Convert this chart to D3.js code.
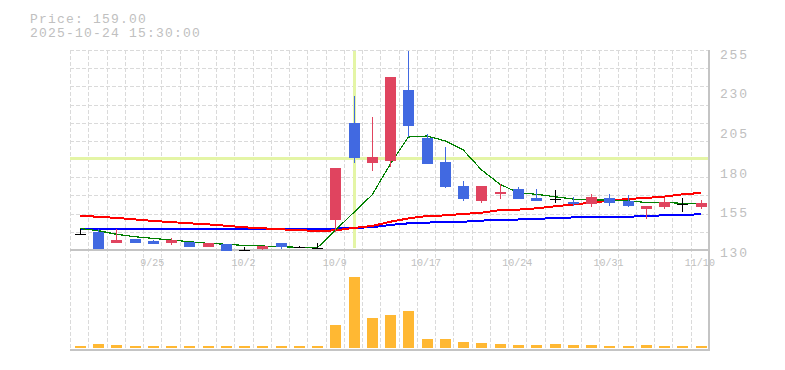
<!DOCTYPE html>
<html>
<head>
<meta charset="utf-8">
<script src="https://cdn.jsdelivr.net/npm/d3@7"></script>
<style>
  body { margin: 0; background: #fff; }
  svg { display: block; }
  text { font-family: "Liberation Mono", monospace; fill: #c0c0c0; }
</style>
</head>
<body>
<svg id="chart"></svg>
<script>
// Trading days shown on the chart
var dates = ["9/18","9/19","9/22","9/24","9/25","9/26","9/29","9/30","10/1","10/2",
             "10/3","10/6","10/7","10/8","10/9","10/10","10/14","10/15","10/16","10/17",
             "10/20","10/21","10/22","10/23","10/24","10/27","10/28","10/29","10/30","10/31",
             "11/4","11/5","11/6","11/7","11/10"];
var dateTicks = ["9/25","10/2","10/9","10/17","10/24","10/31","11/10"];
var priceTicks = [130, 155, 180, 205, 230, 255];

// OHLC
var open  = [140.1,141.5,134.6,136.7,135.7,134.6,135.0,132.1,133.6,129.8,
             130.8,134.6,132.1,131.05,148.9,210.2,185.0,186.3,230.8,200.8,
             185.4,170.3,160.8,165.1,168.4,163.0,161.9,160.45,159.2,162.8,
             160.7,156.0,157.3,158.8,157.3];
var high  = [143.0,143.0,143.0,136.7,136.3,137.8,135.0,134.6,133.6,132.1,
             132.5,134.6,132.7,134.6,181.9,227.0,214.0,239.2,255.4,202.9,
             195.1,173.5,170.5,171.4,169.9,168.2,167.8,163.2,165.5,165.5,
             164.9,157.9,163.0,162.55,161.5];
var low   = [139.2,130.6,134.6,134.2,133.8,132.9,132.1,132.1,129.6,129.4,
             130.0,130.8,131.5,130.9,141.5,184.6,180.0,182.5,201.4,184.4,
             169.3,161.1,159.8,162.3,162.3,161.1,159.4,157.9,157.3,157.9,
             157.3,149.7,156.0,154.15,156.0];
var close = [140.1,130.6,136.3,134.6,133.8,136.3,132.1,134.6,129.6,129.8,
             132.5,131.7,132.1,131.05,181.9,188.2,188.8,239.2,208.3,184.4,
             169.9,162.3,170.5,166.75,162.3,161.1,161.9,159.0,163.4,159.8,
             157.9,157.9,160.45,158.8,159.8];
var volume = [20,40,30,20,20,20,20,20,20,20,20,20,20,20,230,713,300,330,370,90,
              90,60,50,40,30,30,40,30,30,20,20,30,20,20,20];

// moving averages (short, mid, long)
var maShort = [143.5,142.2,139.9,138.4,137.3,136.3,135.25,134.2,133.6,132.9,
               132.5,132.1,131.7,131.3,142.5,153.6,164.6,184.0,201.2,201.8,
               198.8,193.0,180.5,171.5,166.1,165.1,163.6,162.1,161.5,161.5,
               160.9,160.0,160.0,159.4,159.0];
var maMid   = [151.4,151.0,150.2,149.3,148.3,147.6,146.8,146.2,145.3,144.3,
               143.7,143.0,142.6,141.9,142.4,143.9,145.1,147.8,149.9,151.4,
               151.8,152.7,153.5,155.1,155.4,156.25,157.5,158.6,159.8,161.1,
               162.1,162.8,163.6,165.1,165.9];
var maLong  = [143.2,143.2,143.3,143.5,143.5,143.5,143.5,143.5,143.5,143.5,
               143.5,143.5,143.5,143.5,143.5,144.0,144.3,145.8,146.8,147.3,
               147.4,147.8,148.5,149.0,149.2,149.6,150.1,150.5,150.6,150.7,
               151.0,151.3,151.9,152.1,152.5];

var cursorIndex = 15;

var width = 785, height = 370;
var plotLeft = 70, plotRight = 709, plotTop = 50, priceBottom = 250, volBottom = 350;

var svg = d3.select("#chart")
    .attr("width", width)
    .attr("height", height);

var x = d3.scaleBand().domain(dates).range([plotLeft, plotRight]);
var step = x.step();
var cx = function(i) { return x(dates[i]) + step / 2 + 0.7; };

var y = d3.scaleLinear().domain([130, 256]).range([priceBottom, plotTop]);
var yVol = d3.scaleLinear().domain([0, 780]).range([volBottom - 2, 270]);

// grid
var grid = svg.append("g")
    .attr("stroke", "#dadada")
    .attr("stroke-dasharray", "4,2")
    .attr("shape-rendering", "crispEdges");

grid.selectAll(".vgrid")
    .data(dates)
    .enter().append("line")
    .attr("x1", d => Math.round(x(d)) + 0.5)
    .attr("x2", d => Math.round(x(d)) + 0.5)
    .attr("y1", plotTop)
    .attr("y2", volBottom);

grid.selectAll(".hgrid")
    .data(d3.range(11))
    .enter().append("line")
    .attr("x1", plotLeft)
    .attr("x2", plotRight)
    .attr("y1", k => Math.round(plotTop + k * (priceBottom - plotTop) / 11) + 0.5)
    .attr("y2", k => Math.round(plotTop + k * (priceBottom - plotTop) / 11) + 0.5);

// cursor
var cursor = svg.append("g").attr("stroke", "#e4f5a6").attr("stroke-width", 3)
    .attr("shape-rendering", "crispEdges");
cursor.append("line")
    .attr("x1", Math.round(cx(cursorIndex)) + 0.5).attr("x2", Math.round(cx(cursorIndex)) + 0.5)
    .attr("y1", plotTop + 1).attr("y2", priceBottom - 2);
cursor.append("line")
    .attr("x1", plotLeft).attr("x2", plotRight)
    .attr("y1", Math.round(y(close[cursorIndex])) + 0.5)
    .attr("y2", Math.round(y(close[cursorIndex])) + 0.5);

// axes lines
var axisColor = "#c4c4c4";
var axes = svg.append("g").attr("stroke", axisColor).attr("stroke-width", 2)
    .attr("shape-rendering", "crispEdges");
axes.append("line")
    .attr("x1", plotLeft).attr("x2", plotRight).attr("y1", priceBottom).attr("y2", priceBottom);
axes.append("line")
    .attr("x1", plotLeft).attr("x2", plotRight).attr("y1", volBottom).attr("y2", volBottom);
axes.append("line")
    .attr("x1", plotRight).attr("x2", plotRight).attr("y1", plotTop).attr("y2", volBottom + 1);

// moving averages
var idx = d3.range(dates.length);
function maLine(values) {
    return d3.line().x(i => cx(i)).y(i => y(values[i]))(idx);
}
var maGroup = svg.append("g").attr("fill", "none").attr("shape-rendering", "crispEdges");
maGroup.append("path").attr("d", maLine(maLong))
    .attr("stroke", "#0000ff").attr("stroke-width", 2);
maGroup.append("path").attr("d", maLine(maMid))
    .attr("stroke", "#ff0000").attr("stroke-width", 2);
maGroup.append("path").attr("d", maLine(maShort))
    .attr("stroke", "#008000").attr("stroke-width", 1.2);

// candles
var upColor = "#e0445f", downColor = "#4169e1";
var bodyW = 11;
function candleColor(i) {
    if (close[i] > open[i]) return upColor;
    if (close[i] < open[i]) return downColor;
    return "#000";
}

var candle = svg.append("g").attr("shape-rendering", "crispEdges")
    .selectAll(".candle")
    .data(idx)
    .enter().append("g");

candle.append("line")
    .attr("x1", i => Math.round(cx(i)) + 0.5)
    .attr("x2", i => Math.round(cx(i)) + 0.5)
    .attr("y1", i => y(high[i]))
    .attr("y2", i => y(low[i]))
    .attr("stroke", candleColor);

candle.filter(i => close[i] !== open[i]).append("rect")
    .attr("x", i => Math.round(cx(i)) - 5)
    .attr("y", i => y(Math.max(open[i], close[i])))
    .attr("width", bodyW)
    .attr("height", i => Math.max(1, y(Math.min(open[i], close[i])) - y(Math.max(open[i], close[i]))))
    .attr("fill", candleColor);

candle.filter(i => close[i] === open[i]).append("line")
    .attr("x1", i => Math.round(cx(i)) - 5)
    .attr("x2", i => Math.round(cx(i)) + 6)
    .attr("y1", i => Math.round(y(close[i])) + 0.5)
    .attr("y2", i => Math.round(y(close[i])) + 0.5)
    .attr("stroke", "#000");

// volume
svg.append("g").attr("shape-rendering", "crispEdges")
    .selectAll(".vol")
    .data(idx)
    .enter().append("rect")
    .attr("x", i => Math.round(cx(i)) - 5)
    .attr("y", i => yVol(volume[i]))
    .attr("width", bodyW)
    .attr("height", i => yVol(0) - yVol(volume[i]))
    .attr("fill", "#ffb833");

// price axis labels
svg.append("g")
    .attr("transform", "translate(" + plotRight + ",0)")
    .call(d3.axisRight(y).tickValues(priceTicks).tickSize(0).tickPadding(11))
    .call(g => g.select(".domain").remove())
    .call(g => g.selectAll("text")
        .attr("dy", "0.5em")
        .attr("fill", "#c0c0c0")
        .style("font-size", "13px")
        .style("letter-spacing", "1.8px")
        .style("font-family", "Liberation Mono, monospace"));

// date axis labels
svg.append("g")
    .attr("transform", "translate(0," + priceBottom + ")")
    .call(d3.axisBottom(x).tickValues(dateTicks).tickSize(0).tickPadding(9))
    .call(g => g.select(".domain").remove())
    .call(g => g.selectAll("text")
        .attr("fill", "#c0c0c0")
        .style("font-size", "10px")
        .style("font-family", "Liberation Mono, monospace"));

// info text
var info = svg.append("g").style("font-size", "13px").style("letter-spacing", "1.2px");
info.append("text").attr("x", 30).attr("y", 23).text("Price: 159.00");
info.append("text").attr("x", 30).attr("y", 37).text("2025-10-24 15:30:00");
</script>
</body>
</html>
